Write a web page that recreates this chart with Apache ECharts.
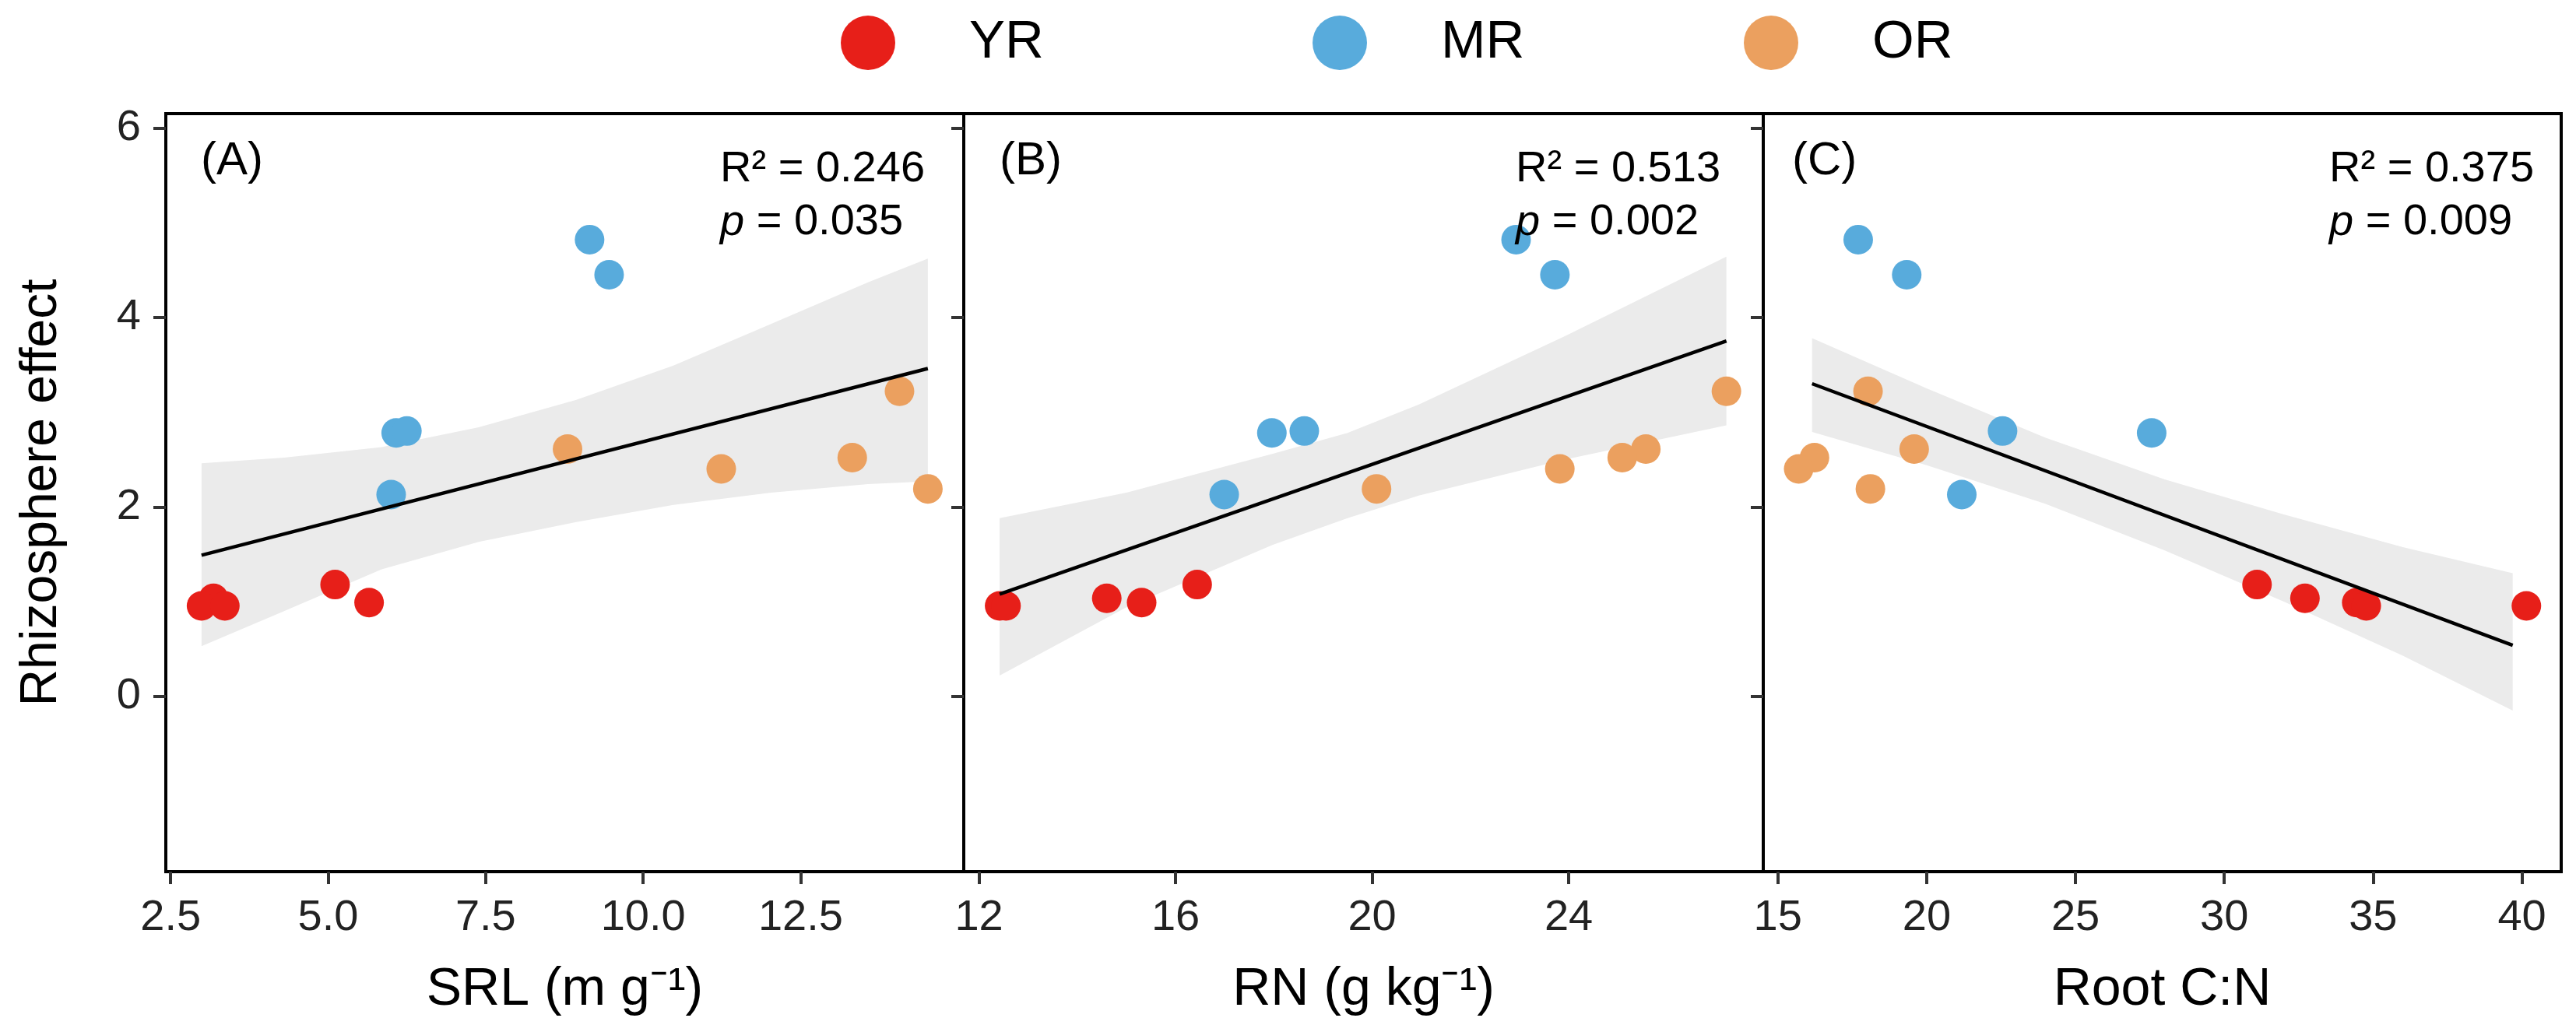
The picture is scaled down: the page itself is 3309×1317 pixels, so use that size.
<!DOCTYPE html>
<html>
<head>
<meta charset="utf-8">
<script src="https://cdn.jsdelivr.net/npm/echarts@6/dist/echarts.min.js"></script>
<style>
html,body{margin:0;padding:0;background:#fff;}
#chart{width:3309px;height:1317px;}
</style>
</head>
<body>
<div id="chart"></div>
<script>
// ---------------- data ----------------
const groups = ['YR', 'MR', 'OR'];

// Rhizosphere effect (y) per group, sample order kept across panels
const yrEffect = [1.18, 1.035, 0.99, 0.955, 0.955];
const mrEffect = [4.82, 4.45, 2.78, 2.80, 2.13];
const orEffect = [3.22, 2.61, 2.52, 2.40, 2.19];

// Panel A: SRL (m g-1)
const yrSRL = [5.11, 3.18, 5.65, 2.99, 3.36];
const mrSRL = [9.15, 9.46, 6.08, 6.25, 6.00];
const orSRL = [14.07, 8.80, 13.32, 11.24, 14.52];
// Panel B: RN (g kg-1)
const yrRN = [16.44, 14.60, 15.31, 12.42, 12.55];
const mrRN = [22.93, 23.72, 17.96, 18.62, 16.99];
const orRN = [27.21, 25.57, 25.09, 23.82, 20.09];
// Panel C: Root C:N
const yrCN = [31.10, 32.71, 34.45, 34.77, 40.15];
const mrCN = [17.70, 19.33, 27.56, 22.55, 21.18];
const orCN = [18.03, 19.58, 16.23, 15.70, 18.11];

// fitted lines (end points)
const fitSRLx = [2.99, 14.52];
const fitSRLy = [1.49, 3.46];
const fitRNx = [12.42, 27.21];
const fitRNy = [1.08, 3.75];
const fitCNx = [16.15, 39.69];
const fitCNy = [3.30, 0.54];

// confidence ribbons
const bandSRLx = [2.99, 4.30, 5.85, 7.39, 8.94, 10.48, 12.03, 13.57, 14.52];
const bandSRLup = [2.46, 2.52, 2.63, 2.84, 3.13, 3.49, 3.93, 4.37, 4.62];
const bandSRLlo = [0.53, 0.90, 1.34, 1.63, 1.84, 2.02, 2.15, 2.24, 2.27];
const bandRNx = [12.42, 15.0, 17.98, 19.5, 20.95, 23.92, 27.21];
const bandRNup = [1.88, 2.15, 2.56, 2.78, 3.08, 3.80, 4.64];
const bandRNlo = [0.22, 0.94, 1.60, 1.88, 2.12, 2.50, 2.86];
const bandCNx = [16.15, 20.0, 24.0, 28.0, 32.0, 36.0, 39.69];
const bandCNup = [3.78, 3.25, 2.73, 2.29, 1.92, 1.575, 1.30];
const bandCNlo = [2.79, 2.44, 2.03, 1.54, 1.00, 0.43, -0.15];

// ticks
const srlTicks = [2.5, 5, 7.5, 10, 12.5];
const rnTicks = [12, 16, 20, 24];
const cnTicks = [15, 20, 25, 30, 35, 40];
const effectTicks = [0, 2, 4, 6];

// texts
const panelTags = ['(A)', '(B)', '(C)'];
const statR2 = ['0.246', '0.513', '0.375'];
const statP = ['0.035', '0.002', '0.009'];
const xTitles = ['SRL (m g\u207B\u00B9)', 'RN (g kg\u207B\u00B9)', 'Root C:N'];
const yTitle = 'Rhizosphere effect';

// ---------------- styling / layout ----------------
const FONT = "'Liberation Sans', Arial, Helvetica, sans-serif";
const groupColors = ['#E71F19', '#58ABDC', '#EBA05F'];
const gridBoxes = [
  {left: 213, top: 146, width: 1025, height: 974},
  {left: 1238, top: 146, width: 1027, height: 974},
  {left: 2265, top: 146, width: 1025, height: 974}
];
const xRanges = [[2.423, 15.09], [11.69, 27.96], [14.51, 41.32]];
const yRange = [-1.85, 6.15];
const tagX = [258, 1284, 2302];
const statX = [925, 1947, 2992];

const panelX = [[yrSRL, mrSRL, orSRL], [yrRN, mrRN, orRN], [yrCN, mrCN, orCN]];
const panelY = [yrEffect, mrEffect, orEffect];
const fits = [[fitSRLx, fitSRLy], [fitRNx, fitRNy], [fitCNx, fitCNy]];
const bands = [[bandSRLx, bandSRLup, bandSRLlo], [bandRNx, bandRNup, bandRNlo], [bandCNx, bandCNup, bandCNlo]];
const xTickSets = [srlTicks, rnTicks, cnTicks];
const xFormat = [v => v.toFixed(1), v => String(v), v => String(v)];

const grids = gridBoxes.map(b => Object.assign({
  show: true, borderColor: '#000', borderWidth: 4, backgroundColor: 'transparent',
  containLabel: false, outerBoundsMode: 'none'
}, b));

const xAxes = [0, 1, 2].map(i => ({
  type: 'value', gridIndex: i, min: xRanges[i][0], max: xRanges[i][1],
  name: xTitles[i], nameLocation: 'middle', nameGap: 118, nameMoveOverlap: false,
  nameTextStyle: {fontFamily: FONT, fontSize: 68, color: '#000'},
  axisLine: {show: false, onZero: false},
  splitLine: {show: false},
  axisTick: {show: true, inside: false, length: 16, customValues: xTickSets[i],
             lineStyle: {color: '#333', width: 4}},
  axisLabel: {show: true, margin: 32, customValues: xTickSets[i], formatter: xFormat[i],
              fontFamily: FONT, fontSize: 56, color: '#222'}
}));

const yAxes = [0, 1, 2].map(i => ({
  type: 'value', gridIndex: i, min: yRange[0], max: yRange[1],
  name: i === 0 ? yTitle : '', nameLocation: 'middle', nameGap: 126, nameMoveOverlap: false,
  nameTextStyle: {fontFamily: FONT, fontSize: 66, color: '#000'},
  axisLine: {show: false, onZero: false},
  splitLine: {show: false},
  axisTick: {show: true, inside: false, length: 16, customValues: effectTicks,
             lineStyle: {color: '#333', width: 4}},
  axisLabel: {show: i === 0, margin: 32, customValues: effectTicks,
              fontFamily: FONT, fontSize: 56, color: '#222'}
}));

function bandRenderer(bx, bu, bl) {
  return function (params, api) {
    if (params.dataIndex !== 0) return null;
    const upper = bx.map((x, k) => api.coord([x, bu[k]]));
    const lower = bx.map((x, k) => api.coord([x, bl[k]])).reverse();
    return {
      type: 'polygon',
      shape: {points: upper.concat(lower)},
      style: {fill: '#EBEBEB', stroke: null}
    };
  };
}

const series = [];
for (let i = 0; i < 3; i++) {
  const [bx, bu, bl] = bands[i];
  series.push({
    type: 'custom', xAxisIndex: i, yAxisIndex: i, silent: true, z: 1,
    data: bx.map((x, k) => [x, bu[k], bl[k]]),
    encode: {x: 0, y: [1, 2]},
    renderItem: bandRenderer(bx, bu, bl),
    clip: true
  });
  groups.forEach((g, gi) => {
    series.push({
      type: 'scatter', name: g, xAxisIndex: i, yAxisIndex: i,
      data: panelX[i][gi].map((x, k) => [x, panelY[gi][k]]),
      symbol: 'circle', symbolSize: 38,
      itemStyle: {color: groupColors[gi], opacity: 1, borderWidth: 0}, z: 2
    });
  });
  const [fx, fy] = fits[i];
  series.push({
    type: 'line', xAxisIndex: i, yAxisIndex: i,
    data: fx.map((x, k) => [x, fy[k]]), symbol: 'none',
    lineStyle: {color: '#000', width: 4.5}, silent: true, z: 3
  });
}

const legendLefts = [1075, 1681, 2235];
const legends = groups.map((g, gi) => ({
  data: [g], left: legendLefts[gi], top: 15, orient: 'horizontal',
  icon: 'circle', itemWidth: 70, itemHeight: 70, selectedMode: true,
  textStyle: {fontFamily: FONT, fontSize: 69, color: '#000', padding: [16, 0, 0, 90]}
}));

const graphics = [];
for (let i = 0; i < 3; i++) {
  graphics.push({
    type: 'text', x: tagX[i], y: 207, z: 100,
    style: {text: panelTags[i], fontFamily: FONT, fontSize: 60, fill: '#000',
            align: 'left', verticalAlign: 'middle'}
  });
  graphics.push({
    type: 'text', x: statX[i], y: 218, z: 100,
    style: {text: 'R\u00B2 = ' + statR2[i], fontFamily: FONT, fontSize: 56, fill: '#000',
            align: 'left', verticalAlign: 'middle'}
  });
  graphics.push({
    type: 'text', x: statX[i], y: 286, z: 100,
    style: {text: '{i|p} = ' + statP[i], fontFamily: FONT, fontSize: 56, fill: '#000',
            align: 'left', verticalAlign: 'middle',
            rich: {i: {fontFamily: FONT, fontSize: 56, fontStyle: 'italic', fill: '#000'}}}
  });
}

const chart = echarts.init(document.getElementById('chart'), null, {renderer: 'canvas'});
chart.setOption({
  animation: false,
  backgroundColor: '#fff',
  legend: legends,
  grid: grids,
  xAxis: xAxes,
  yAxis: yAxes,
  series: series,
  graphic: graphics
});
</script>
</body>
</html>
